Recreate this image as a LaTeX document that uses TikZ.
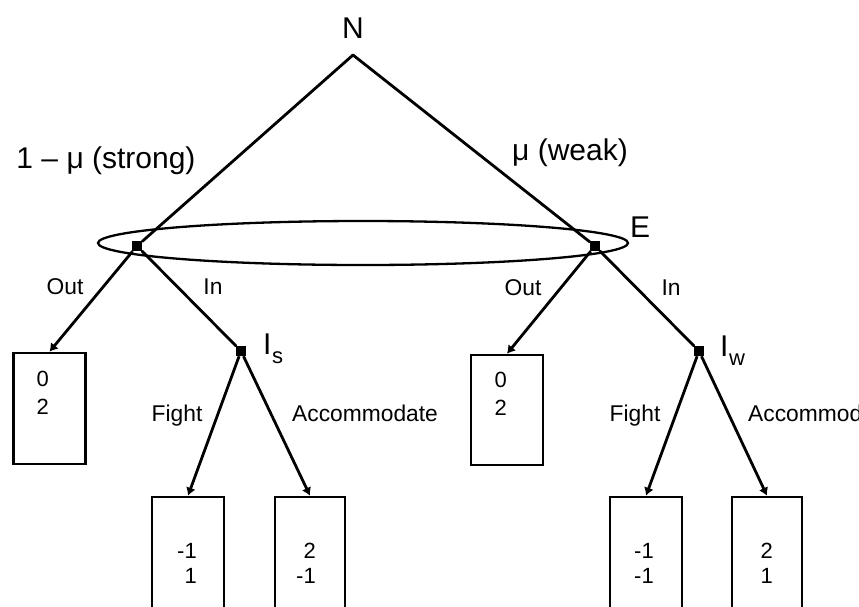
\documentclass[tikz,border=0pt]{standalone}
\usepackage{fontspec}
\setmainfont{Liberation Sans}
\usetikzlibrary{arrows.meta}
\begin{document}
\begin{tikzpicture}[x=1pt,y=-1pt,
  edge/.style={line width=2.8pt, line cap=round},
  arr/.style={line width=2.8pt, -{Latex[length=8pt,width=10pt]}},
  dec/.style={fill=black, inner sep=0pt, minimum size=10pt, rectangle},
  payoff/.style={draw, line width=2.6pt, rectangle, inner sep=0pt},
  big/.style={font=\fontsize{30}{30}\selectfont, inner sep=0pt},
  small/.style={font=\fontsize{22.8}{22.8}\selectfont, inner sep=0pt},
  num/.style={font=\fontsize{22}{22}\selectfont, inner sep=0pt, anchor=base east},
]
\useasboundingbox (0,0) rectangle (859,606);
\clip (0,0) rectangle (859,606);

% information set
\draw[line width=2.3pt] (363,243) ellipse [x radius=265pt, y radius=22pt];

% decision nodes
\coordinate (root) at (353,55);
\node[dec] (S) at (137,246) {};
\node[dec] (W) at (595,246) {};
\node[dec] (Is) at (241,351) {};
\node[dec] (Iw) at (699,351) {};

% payoff boxes
\node[payoff, minimum width=72pt, minimum height=111pt] (o1) at (49.5,408.5) {};
\node[payoff, minimum width=72pt, minimum height=110pt] (o2) at (507,410) {};
\node[payoff, minimum width=72pt, minimum height=143pt] (sf) at (188,568.5) {};
\node[payoff, minimum width=70pt, minimum height=143pt] (sa) at (310,568.5) {};
\node[payoff, minimum width=72pt, minimum height=143pt] (wf) at (646,568.5) {};
\node[payoff, minimum width=70pt, minimum height=143pt] (wa) at (767,568.5) {};

% edges
\draw[edge] (root) -- (S);
\draw[edge] (root) -- (W);
\draw[edge] (S) -- (Is);
\draw[edge] (W) -- (Iw);
\draw[arr] (S) -- (o1.north);
\draw[arr] (W) -- (o2.north);
\draw[arr] (Is) -- (sf.north);
\draw[arr] (Is) -- (sa.north);
\draw[arr] (Iw) -- (wf.north);
\draw[arr] (Iw) -- (wa.north);

% labels
\node[big, anchor=base] (lN) at (353,38) {N};
\node[big, anchor=base] (lst) at (106,168) {1 – μ (strong)};
\node[big, anchor=base] (lwk) at (570,160) {μ (weak)};
\node[big, anchor=base west] (lE) at (630,237) {E};
\node[small, anchor=base] (lo1) at (65,294) {Out};
\node[small, anchor=base] (li1) at (213,294) {In};
\node[small, anchor=base] (lo2) at (523,295) {Out};
\node[small, anchor=base] (li2) at (671,295) {In};
\node[small, anchor=base] (lf1) at (177,421) {Fight};
\node[small, anchor=base west] (la1) at (292,421) {Accommodate};
\node[small, anchor=base] (lf2) at (635,421) {Fight};
\node[small, anchor=base west] (la2) at (748,421) {Accommodate};
\node[inner sep=0pt, anchor=base west, font=\fontsize{30}{30}\selectfont] (lIs) at (263,354) {I\kern0.5pt\raisebox{-9pt}{\fontsize{22}{22}\selectfont s}};
\node[inner sep=0pt, anchor=base west, font=\fontsize{30}{30}\selectfont] (lIw) at (720,356) {I\kern0.5pt\raisebox{-9pt}{\fontsize{22}{22}\selectfont w}};

% payoffs
\node[num] (p1a) at (49,386) {0};
\node[num] (p1b) at (49,414) {2};
\node[num] (p2a) at (507,387) {0};
\node[num] (p2b) at (507,415) {2};
\node[num] (p3a) at (197,558) {-1};
\node[num] (p3b) at (197,583) {1};
\node[num] (p4a) at (316,558) {2};
\node[num] (p4b) at (316,583) {-1};
\node[num] (p5a) at (654,558) {-1};
\node[num] (p5b) at (654,583) {-1};
\node[num] (p6a) at (773,558) {2};
\node[num] (p6b) at (773,583) {1};
\end{tikzpicture}
\end{document}
